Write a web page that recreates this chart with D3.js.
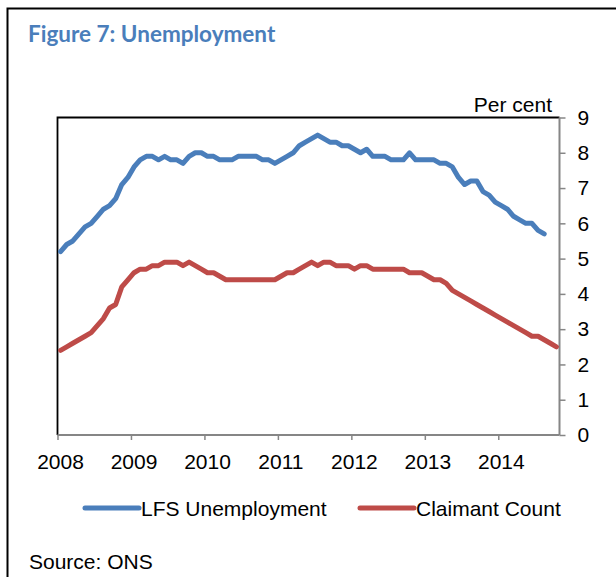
<!DOCTYPE html>
<html>
<head>
<meta charset="utf-8">
<script src="https://cdn.jsdelivr.net/npm/d3@7"></script>
<style>
  html, body { margin: 0; padding: 0; background: #fff; }
  svg { display: block; }
  text { font-family: "Liberation Sans", Arial, sans-serif; fill: #000; }
</style>
</head>
<body>
<div id="chart"></div>
<script>
// Monthly series, January 2008 onwards (per cent)
const years = ["2008", "2009", "2010", "2011", "2012", "2013", "2014"];
const monthCount = 82; // Jan 2008 – Oct 2014

const lfsUnemployment = [
  5.2, 5.4, 5.5, 5.7, 5.9, 6.0, 6.2, 6.4, 6.5, 6.7, 7.1, 7.3,
  7.6, 7.8, 7.9, 7.9, 7.8, 7.9, 7.8, 7.8, 7.7, 7.9, 8.0, 8.0,
  7.9, 7.9, 7.8, 7.8, 7.8, 7.9, 7.9, 7.9, 7.9, 7.8, 7.8, 7.7,
  7.8, 7.9, 8.0, 8.2, 8.3, 8.4, 8.5, 8.4, 8.3, 8.3, 8.2, 8.2,
  8.1, 8.0, 8.1, 7.9, 7.9, 7.9, 7.8, 7.8, 7.8, 8.0, 7.8, 7.8,
  7.8, 7.8, 7.7, 7.7, 7.6, 7.3, 7.1, 7.2, 7.2, 6.9, 6.8, 6.6,
  6.5, 6.4, 6.2, 6.1, 6.0, 6.0, 5.8, 5.7
];

const claimantCount = [
  2.4, 2.5, 2.6, 2.7, 2.8, 2.9, 3.1, 3.3, 3.6, 3.7, 4.2, 4.4,
  4.6, 4.7, 4.7, 4.8, 4.8, 4.9, 4.9, 4.9, 4.8, 4.9, 4.8, 4.7,
  4.6, 4.6, 4.5, 4.4, 4.4, 4.4, 4.4, 4.4, 4.4, 4.4, 4.4, 4.4,
  4.5, 4.6, 4.6, 4.7, 4.8, 4.9, 4.8, 4.9, 4.9, 4.8, 4.8, 4.8,
  4.7, 4.8, 4.8, 4.7, 4.7, 4.7, 4.7, 4.7, 4.7, 4.6, 4.6, 4.6,
  4.5, 4.4, 4.4, 4.3, 4.1, 4.0, 3.9, 3.8, 3.7, 3.6, 3.5, 3.4,
  3.3, 3.2, 3.1, 3.0, 2.9, 2.8, 2.8, 2.7, 2.6, 2.5
];

const yTicks = [0, 1, 2, 3, 4, 5, 6, 7, 8, 9];

const seriesNames = ["LFS Unemployment", "Claimant Count"];
const seriesColors = ["#4a7ebb", "#be4b48"];

const W = 616, H = 577;
const plot = { left: 57.5, right: 559.5, top: 117.5, bottom: 435 };
const fontSize = "21px";
const lineWidth = 5;

const svg = d3.select("#chart").append("svg")
  .attr("width", W).attr("height", H);

// outer frame (top and left edges)
svg.append("path")
  .attr("d", `M7.5,${H} V8.5 H${W}`)
  .attr("fill", "none").attr("stroke", "#000").attr("stroke-width", 2);

// title
svg.append("text")
  .attr("x", 28).attr("y", 42)
  .style("font-family", "Lato, 'Open Sans', sans-serif")
  .style("font-weight", "bold")
  .style("font-size", "22.5px")
  .style("fill", "#4a7ebb")
  .text("Figure 7: Unemployment");

const x = d3.scaleLinear().domain([0, monthCount]).range([plot.left, plot.right]);
const y = d3.scaleLinear().domain([0, 9]).range([plot.bottom, plot.top]);

// plot area border (top and left)
svg.append("path")
  .attr("d", `M${plot.left},${plot.bottom} V${plot.top} H${plot.right}`)
  .attr("fill", "none").attr("stroke", "#000").attr("stroke-width", 1.8);

// x axis: tick marks every 12 months, year labels centred on January
const xAxis = svg.append("g")
  .attr("transform", `translate(0,${plot.bottom})`)
  .call(d3.axisBottom(x)
    .tickValues(d3.range(0, monthCount, 12))
    .tickSize(5)
    .tickFormat(""));
xAxis.select(".domain").attr("stroke", "#868686").attr("stroke-width", 2)
  .attr("d", `M${plot.left},0 H${plot.right}`);
xAxis.selectAll(".tick line").attr("stroke", "#868686").attr("stroke-width", 1.5);

svg.append("g").selectAll("text")
  .data(years)
  .join("text")
  .attr("x", (d, i) => x(i * 12 + 0.5))
  .attr("y", plot.bottom + 34)
  .attr("text-anchor", "middle")
  .style("font-size", fontSize)
  .text(d => d);

// y axis on the right
const yAxis = svg.append("g")
  .attr("transform", `translate(${plot.right},0)`)
  .call(d3.axisRight(y).tickValues(yTicks).tickSize(6).tickPadding(12).tickFormat(d3.format("d")));
yAxis.select(".domain").attr("stroke", "#868686").attr("stroke-width", 2)
  .attr("d", `M0,${plot.top} V${plot.bottom}`);
yAxis.selectAll(".tick line").attr("stroke", "#868686").attr("stroke-width", 1.5);
yAxis.selectAll(".tick text")
  .style("font-family", "'Liberation Sans', Arial, sans-serif")
  .style("font-size", fontSize).attr("fill", "#000");

svg.append("text")
  .attr("x", 552).attr("y", 112)
  .attr("text-anchor", "end")
  .style("font-size", fontSize)
  .text("Per cent");

// series lines
const line = d3.line()
  .x((d, i) => x(i + 0.5))
  .y(d => y(d));

[lfsUnemployment, claimantCount].forEach((data, k) => {
  svg.append("path")
    .datum(data)
    .attr("d", line)
    .attr("fill", "none")
    .attr("stroke", seriesColors[k])
    .attr("stroke-width", lineWidth)
    .attr("stroke-linejoin", "round")
    .attr("stroke-linecap", "round");
});

// legend
const legendX = [85, 360];
const legend = svg.append("g");
seriesNames.forEach((name, k) => {
  legend.append("line")
    .attr("x1", legendX[k]).attr("x2", legendX[k] + 54)
    .attr("y1", 508).attr("y2", 508)
    .attr("stroke", seriesColors[k]).attr("stroke-width", lineWidth)
    .attr("stroke-linecap", "round");
  legend.append("text")
    .attr("x", legendX[k] + 56).attr("y", 515.5)
    .style("font-size", fontSize)
    .text(name);
});

// source note
svg.append("text")
  .attr("x", 29).attr("y", 569)
  .style("font-size", fontSize)
  .text("Source: ONS");
</script>
</body>
</html>
